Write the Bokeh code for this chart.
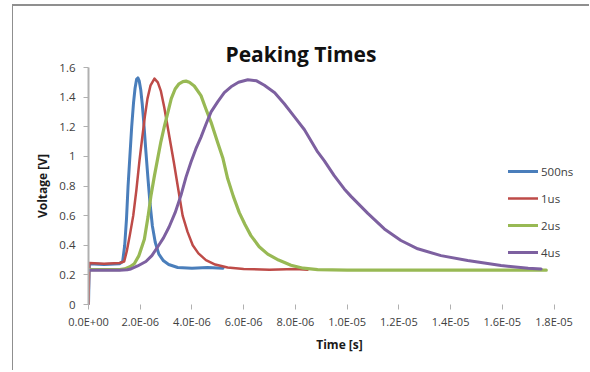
from bokeh.plotting import figure
from bokeh.models import Range1d, FixedTicker, Legend, LegendItem, Title
from bokeh.embed import file_html
from bokeh.resources import INLINE

# ---- data (time in microseconds, voltage in V) ----
t_500ns = [0.0, 0.03, 0.6, 1.2, 1.32, 1.40, 1.47, 1.53, 1.60, 1.67, 1.74, 1.80, 1.86, 1.91,
           1.96, 2.02, 2.08, 2.15, 2.22, 2.30, 2.38, 2.47, 2.58, 2.72, 2.90, 3.10, 3.45,
           4.0, 4.6, 5.2]
v_500ns = [0.0, 0.275, 0.27, 0.275, 0.29, 0.40, 0.58, 0.80, 1.00, 1.20, 1.36, 1.46, 1.52, 1.53,
           1.51, 1.45, 1.35, 1.20, 1.03, 0.85, 0.68, 0.53, 0.42, 0.34, 0.295, 0.27, 0.25,
           0.245, 0.25, 0.245]

t_1us = [0.0, 0.03, 0.6, 1.2, 1.38, 1.48, 1.60, 1.73, 1.85, 1.97, 2.08, 2.18, 2.28, 2.40,
         2.55, 2.68, 2.80, 2.93, 3.06, 3.18, 3.30, 3.45, 3.64, 3.83, 4.03, 4.25, 4.54,
         4.9, 5.38, 6.0, 7.0, 8.0, 8.47]
v_1us = [0.0, 0.28, 0.275, 0.28, 0.29, 0.36, 0.47, 0.60, 0.77, 0.97, 1.13, 1.27, 1.39, 1.48,
         1.525, 1.50, 1.44, 1.33, 1.20, 1.08, 0.96, 0.80, 0.60, 0.49, 0.40, 0.345, 0.30,
         0.27, 0.25, 0.24, 0.235, 0.24, 0.235]

t_2us = [0.0, 0.6, 1.2, 1.4, 1.6, 1.77, 1.95, 2.16, 2.30, 2.42, 2.55, 2.68, 2.80, 2.93,
         3.06, 3.20, 3.35, 3.50, 3.65, 3.77, 3.90, 4.09, 4.35, 4.54, 4.74, 5.0, 5.2, 5.38,
         5.6, 5.83, 6.05, 6.28, 6.6, 6.93, 7.35, 7.83, 8.3, 8.86, 10.0, 11.5, 13.0, 14.5,
         16.0, 17.7]
v_2us = [0.235, 0.235, 0.235, 0.24, 0.255, 0.275, 0.33, 0.44, 0.59, 0.74, 0.87, 0.99, 1.10,
         1.20, 1.29, 1.39, 1.455, 1.49, 1.505, 1.508, 1.50, 1.475, 1.41, 1.32, 1.23, 1.09,
         0.985, 0.85, 0.73, 0.62, 0.54, 0.465, 0.39, 0.34, 0.30, 0.265, 0.245, 0.235, 0.232,
         0.232, 0.232, 0.232, 0.232, 0.232]

t_4us = [0.0, 0.6, 1.2, 1.5, 1.64, 1.9, 2.22, 2.45, 2.68, 2.9, 3.12, 3.35, 3.58, 3.77, 3.96,
         4.15, 4.35, 4.55, 4.74, 5.0, 5.25, 5.51, 5.8, 6.16, 6.5, 6.8, 7.2, 7.57, 7.95, 8.35,
         8.86, 9.12, 9.5, 9.89, 10.15, 10.8, 11.44, 12.08, 12.73, 13.63, 14.66, 15.95, 17.0,
         17.5]
v_4us = [0.232, 0.232, 0.232, 0.235, 0.24, 0.26, 0.29, 0.33, 0.39, 0.45, 0.525, 0.62, 0.74,
         0.86, 0.96, 1.05, 1.13, 1.22, 1.30, 1.37, 1.43, 1.47, 1.50, 1.517, 1.51, 1.48,
         1.43, 1.355, 1.27, 1.18, 1.03, 0.97, 0.87, 0.78, 0.73, 0.615, 0.51, 0.432, 0.376,
         0.33, 0.297, 0.263, 0.245, 0.24]

series_names = ["500ns", "1us", "2us", "4us"]

x_ticks = [0, 2, 4, 6, 8, 10, 12, 14, 16, 18]
x_tick_labels = ["0.0E+00", "2.0E-06", "4.0E-06", "6.0E-06", "8.0E-06", "1.0E-05",
                 "1.2E-05", "1.4E-05", "1.6E-05", "1.8E-05"]
y_ticks = [0, 0.2, 0.4, 0.6, 0.8, 1.0, 1.2, 1.4, 1.6]
y_tick_labels = ["0", "0.2", "0.4", "0.6", "0.8", "1", "1.2", "1.4", "1.6"]

title_text = "Peaking Times"
x_title = "Time [s]"
y_title = "Voltage [V]"

# ---- figure ----
FONT = "Open Sans"
W, H = 577, 366
p = figure(width=W, height=H, output_backend="svg", toolbar_location=None,
           x_range=Range1d(0, 19.41), y_range=Range1d(0, 1.6),
           min_border_left=75, min_border_right=0, min_border_top=61,
           min_border_bottom=68)
p.styles = {"margin-left": "12px", "margin-top": "4px",
            "border-left": "1px solid #8f8f8f", "border-top": "2px solid #8f8f8f"}
p.outline_line_color = None
p.xgrid.grid_line_color = None
p.ygrid.grid_line_color = None
p.background_fill_color = "white"
p.border_fill_color = "white"

# title stacked above an invisible spacer (the last item added sits next to the frame)
p.title = None
p.add_layout(Title(text=title_text, text_font=FONT, text_font_size="21px",
                   text_font_style="bold", text_color="#111111",
                   align="left", offset=137, standoff=0), "above")
p.add_layout(Title(text=" ", text_font_size="1px", standoff=17, text_alpha=0), "above")

# axes
xa = p.xaxis[0]
xa.ticker = FixedTicker(ticks=x_ticks)
xa.major_label_overrides = dict(zip(x_ticks, x_tick_labels))
xa.axis_line_color = None
xa.major_tick_line_color = "#b0b0b0"
xa.major_tick_in = 0
xa.major_tick_out = 5
xa.minor_tick_line_color = None
xa.major_label_standoff = 4
xa.major_label_text_font = FONT
xa.major_label_text_font_size = "11px"
xa.major_label_text_color = "#404040"
xa.axis_label = x_title
xa.axis_label_text_font = FONT
xa.axis_label_text_font_size = "12px"
xa.axis_label_text_font_style = "bold"
xa.axis_label_text_color = "#1a1a1a"
xa.axis_label_standoff = 4

ya = p.yaxis[0]
ya.ticker = FixedTicker(ticks=y_ticks)
ya.major_label_overrides = dict(zip(y_ticks, y_tick_labels))
ya.axis_line_color = "#b0b0b0"
ya.axis_line_width = 2
ya.major_tick_line_color = "#b0b0b0"
ya.major_tick_in = 0
ya.major_tick_out = 5
ya.minor_tick_line_color = None
ya.major_label_standoff = 8
ya.major_label_text_font = FONT
ya.major_label_text_font_size = "11.5px"
ya.major_label_text_color = "#404040"
ya.axis_label = y_title
ya.axis_label_text_font = FONT
ya.axis_label_text_font_size = "12px"
ya.axis_label_text_font_style = "bold"
ya.axis_label_text_color = "#1a1a1a"
ya.axis_label_standoff = 5

# lines
colors = ["#4A7EBB", "#BE4B48", "#98B954", "#7D60A0"]
widths = [3, 2.5, 3.2, 3]
data = [(t_500ns, v_500ns), (t_1us, v_1us), (t_2us, v_2us), (t_4us, v_4us)]
renderers = []
for (t, v), c, w in zip(data, colors, widths):
    r = p.line(t, v, line_color=c, line_width=w, line_join="round", line_cap="round")
    renderers.append(r)

legend = Legend(items=[LegendItem(label=n, renderers=[r]) for n, r in zip(series_names, renderers)],
                location=(420, 42), orientation="vertical",
                border_line_color=None, background_fill_alpha=0,
                padding=0, margin=0, spacing=7,
                glyph_height=20, glyph_width=30, label_height=20, label_standoff=3,
                label_text_font=FONT, label_text_font_size="11.5px",
                label_text_color="#404040")
p.add_layout(legend, "center")

open("out.html", "w").write(file_html(p, INLINE))
